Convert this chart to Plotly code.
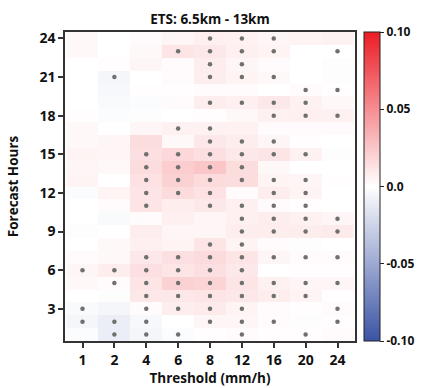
import plotly.graph_objects as go

thresholds = ["1", "2", "4", "6", "8", "12", "16", "20", "24"]
hours = list(range(1, 25))

# ETS difference values, rows = forecast hour 1..24, cols = thresholds
ets_diff = [
    [-0.002, -0.010, -0.005, -0.002, 0.001, 0.002, 0.001, 0.001, 0.002],   # 1
    [-0.005, -0.010, -0.004, 0.000, 0.004, 0.004, 0.002, -0.001, 0.001],   # 2
    [-0.003, -0.005, 0.002, 0.008, 0.009, 0.005, 0.002, 0.001, 0.002],     # 3
    [0.000, -0.001, 0.010, 0.010, 0.012, 0.010, 0.008, 0.005, 0.001],      # 4
    [0.003, 0.002, 0.012, 0.020, 0.019, 0.012, 0.006, 0.004, 0.004],       # 5
    [0.004, 0.008, 0.014, 0.012, 0.014, 0.010, 0.000, 0.001, 0.001],       # 6
    [0.002, 0.003, 0.010, 0.014, 0.016, 0.012, 0.004, 0.002, 0.002],       # 7
    [0.000, 0.003, 0.007, 0.005, 0.012, 0.005, 0.002, -0.001, 0.000],      # 8
    [-0.001, 0.000, 0.008, 0.004, 0.004, 0.008, 0.008, 0.008, 0.009],      # 9
    [0.000, -0.003, 0.002, 0.007, 0.004, 0.007, 0.008, 0.006, 0.004],      # 10
    [0.000, 0.002, 0.012, 0.008, 0.010, 0.007, 0.002, 0.001, 0.000],       # 11
    [-0.002, 0.005, 0.012, 0.016, 0.013, 0.002, 0.008, 0.005, 0.000],      # 12
    [0.005, 0.000, 0.013, 0.020, 0.016, 0.015, 0.005, 0.004, 0.001],       # 13
    [0.004, 0.003, 0.015, 0.022, 0.025, 0.015, 0.003, 0.000, 0.000],       # 14
    [0.005, 0.004, 0.014, 0.017, 0.014, 0.010, 0.012, 0.006, -0.001],      # 15
    [0.003, 0.004, 0.015, 0.003, 0.010, 0.008, 0.004, 0.001, 0.000],      # 16
    [0.003, 0.000, 0.004, 0.006, 0.006, 0.006, 0.002, 0.002, 0.002],       # 17
    [0.001, -0.002, -0.001, 0.000, 0.001, 0.003, 0.006, 0.007, 0.006],     # 18
    [0.000, -0.003, -0.002, 0.002, 0.008, 0.007, 0.010, 0.006, 0.003],     # 19
    [0.000, -0.004, 0.001, 0.001, 0.002, 0.002, 0.000, 0.002, 0.001],      # 20
    [0.000, -0.005, 0.000, 0.002, 0.008, 0.005, 0.003, 0.000, -0.001],     # 21
    [0.000, 0.001, 0.004, 0.002, 0.008, 0.004, 0.002, 0.000, -0.001],      # 22
    [0.003, 0.000, 0.003, 0.012, 0.010, 0.007, 0.005, 0.000, 0.000],       # 23
    [0.003, 0.000, 0.002, 0.004, 0.007, 0.006, 0.004, 0.005, 0.006],       # 24
]

# significant cells (thresholds marked with a dot) per forecast hour
significant = {
    1: ["2", "4", "6", "12", "20"],
    2: ["1", "2", "4", "8", "12", "16", "24"],
    3: ["1", "4", "6", "8", "12", "24"],
    4: ["4", "6", "8", "12", "16", "20"],
    5: ["2", "4", "6", "8", "12", "16", "20", "24"],
    6: ["1", "2", "4", "6", "8", "12"],
    7: ["4", "6", "8", "12", "16", "20", "24"],
    8: ["8", "12"],
    9: ["12", "16", "20", "24"],
    10: ["12", "16", "20", "24"],
    11: ["4", "8", "12", "16", "20"],
    12: ["4", "6", "8", "16", "20"],
    13: ["4", "6", "8", "12", "16", "20"],
    14: ["4", "6", "8", "12"],
    15: ["4", "6", "8", "12", "16", "20"],
    16: ["8", "12", "16"],
    17: ["6", "8"],
    18: ["16", "20", "24"],
    19: ["8", "12", "16", "20"],
    20: ["20", "24"],
    21: ["2", "8", "12", "16"],
    22: ["8", "12"],
    23: ["6", "8", "12", "16", "24"],
    24: ["8", "12", "16"],
}

cbar_vals = [-0.1, -0.05, 0.0, 0.05, 0.1]
cbar_text = ["-0.10", "-0.05", "0.0", "0.05", "0.10"]
y_ticks = [3, 6, 9, 12, 15, 18, 21, 24]

dot_x, dot_y = [], []
for h in hours:
    for t in significant[h]:
        dot_x.append(t)
        dot_y.append(h)

FONT = "Open Sans"

fig = go.Figure()
fig.add_trace(go.Heatmap(
    z=ets_diff, x=thresholds, y=hours,
    zmin=-0.1, zmax=0.1,
    colorscale=[[0, "#3a53a4"], [0.5, "#ffffff"], [1, "#ec1c24"]],
    xgap=0, ygap=0,
    colorbar=dict(
        x=1.03, xanchor="left", xpad=0,
        y=0.5, yanchor="middle", len=1.0, lenmode="fraction", ypad=0,
        thickness=16,
        outlinewidth=1, outlinecolor="#222",
        tickvals=cbar_vals, ticktext=cbar_text,
        ticks="outside", ticklen=4, tickcolor="#222",
        tickfont=dict(family=FONT, size=12, color="#111", weight="bold"),
    ),
    showscale=True,
))
fig.add_trace(go.Scatter(
    x=dot_x, y=dot_y, mode="markers",
    marker=dict(size=4.5, color="#707070"),
    showlegend=False, hoverinfo="skip",
))

fig.update_layout(
    width=424, height=388,
    margin=dict(l=65, r=69, t=32, b=47, autoexpand=False),
    paper_bgcolor="white", plot_bgcolor="white",
    title=dict(text="ETS: 6.5km - 13km", x=(65 + 145) / 424, xref="container", xanchor="center",
               y=1 - 19 / 388, yref="container", yanchor="middle",
               font=dict(family=FONT, size=13.5, color="#111", weight="bold")),
    xaxis=dict(
        type="category", categoryorder="array", categoryarray=thresholds,
        ticks="outside", ticklen=5, tickcolor="#333", tickwidth=1.5,
        showline=True, linecolor="#333", linewidth=1.5, mirror=True,
        showgrid=False, zeroline=False,
        tickfont=dict(family=FONT, size=14, color="#111", weight="bold"),
        title=dict(text="Threshold (mm/h)", standoff=0,
                   font=dict(family=FONT, size=13.5, color="#111", weight="bold")),
    ),
    yaxis=dict(
        range=[0.5, 24.5], tickvals=y_ticks,
        ticks="outside", ticklen=5, tickcolor="#333", tickwidth=1.5,
        showline=True, linecolor="#333", linewidth=1.5, mirror=True,
        showgrid=False, zeroline=False,
        tickfont=dict(family=FONT, size=14, color="#111", weight="bold"),
        title=dict(text="Forecast Hours", standoff=18,
                   font=dict(family=FONT, size=13.5, color="#111", weight="bold")),
    ),
)

fig.write_html("out.html", config={"displayModeBar": False},
               post_script="document.body.style.margin='0';document.body.style.overflow='hidden';")
